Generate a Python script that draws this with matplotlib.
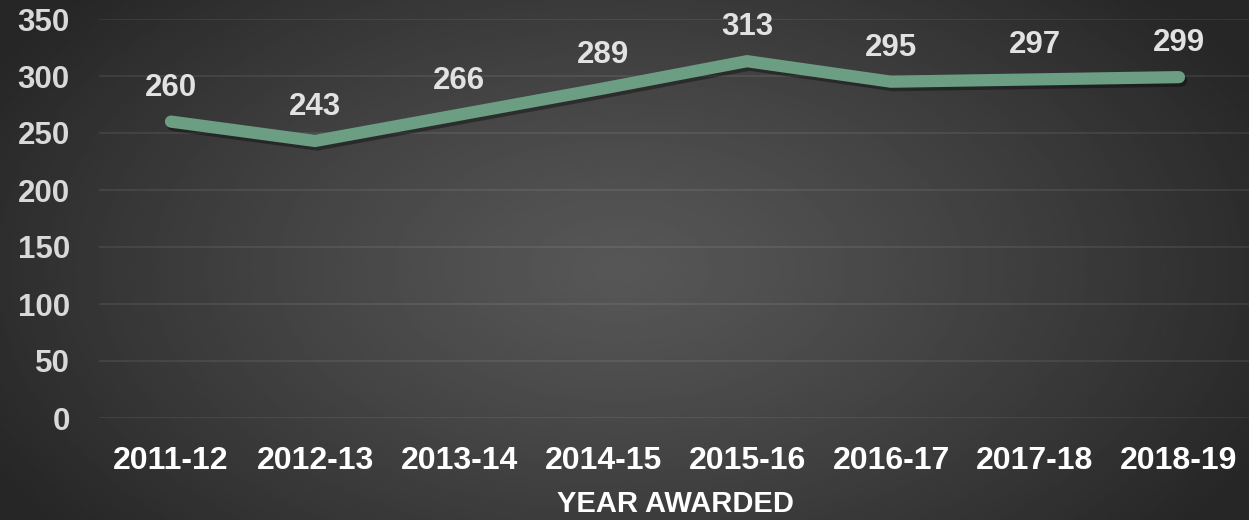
import numpy as np
import matplotlib.pyplot as plt
import matplotlib.patheffects as pe

years = ['2011-12', '2012-13', '2013-14', '2014-15', '2015-16', '2016-17', '2017-18', '2018-19']
awards = [260, 243, 266, 289, 313, 295, 297, 299]
yticks = [0, 50, 100, 150, 200, 250, 300, 350]

plt.rcParams['font.family'] = ['Liberation Sans', 'DejaVu Sans']
plt.rcParams['font.weight'] = 'bold'

fig = plt.figure(figsize=(12.49, 5.2), dpi=100)

# radial grey background, lighter in the middle
bg = fig.add_axes([0, 0, 1, 1], zorder=0)
gx, gy = np.meshgrid(np.linspace(0, 1249, 400), np.linspace(0, 520, 200))
r = np.sqrt(((gx - 620) / 720) ** 2 + ((gy - 270) / 420) ** 2)
r = np.clip(r, 0, 1)
shade = 0.34 - (0.34 - 0.15) * r ** 1.2
bg.imshow(shade, cmap='gray', vmin=0, vmax=1, extent=[0, 1249, 520, 0], aspect='auto', interpolation='bilinear')
bg.axis('off')

ax = fig.add_axes([99 / 1249, 102 / 520, 1152 / 1249, 399 / 520], zorder=1)
ax.patch.set_alpha(0)
x = np.arange(len(years))
ax.plot(x, awards, color='#6b9e82', lw=8.8, solid_capstyle='round', solid_joinstyle='miter', zorder=3,
        path_effects=[pe.SimpleLineShadow(offset=(1.5, -2.5), shadow_color='black', alpha=0.35), pe.Normal()])
for xi, v in zip(x, awards):
    ax.annotate(str(v), (xi, v), xytext=(0, 24.5), textcoords='offset points', ha='center', va='center',
                fontsize=22.5, color='#e2e2e2', fontweight='bold')

ax.set_xlim(-0.5, len(years) - 0.5)
ax.set_ylim(0, 350)
ax.set_yticks(yticks)
ax.set_xticks(x)
ax.set_xticklabels(years)
ax.tick_params(axis='y', length=0, pad=21, labelsize=22.5, labelcolor='#d9d9d9')
ax.tick_params(axis='x', length=0, pad=20, labelsize=23, labelcolor='white')
ax.grid(axis='y', color='white', alpha=0.09, lw=1.2)
ax.set_axisbelow(True)
for s in ax.spines.values():
    s.set_visible(False)
ax.set_xlabel('YEAR AWARDED', fontsize=21, color='white', fontweight='bold', labelpad=10)

fig.savefig('out.png', dpi=100)
